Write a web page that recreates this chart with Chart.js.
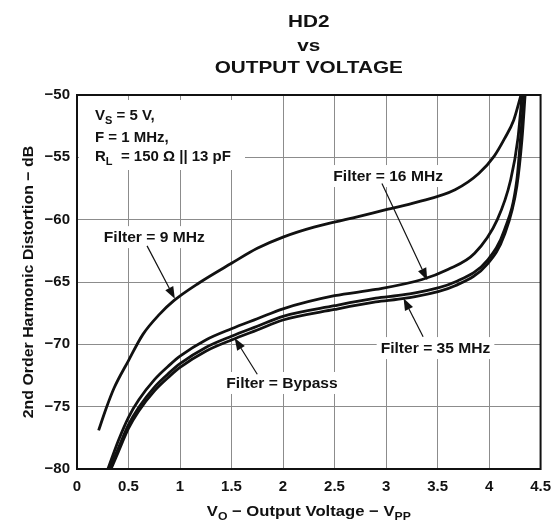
<!DOCTYPE html>
<html>
<head>
<meta charset="utf-8">
<script src="https://cdn.jsdelivr.net/npm/chart.js@4"></script>
<style>
  html, body { margin: 0; padding: 0; background: #fff; }
  #wrap { width: 560px; height: 521px; }
</style>
</head>
<body>
<div id="wrap"><canvas id="myChart" width="560" height="521"></canvas></div>
<script>
const xTickLabels = ['0', '0.5', '1', '1.5', '2', '2.5', '3', '3.5', '4', '4.5'];
const yTickLabels = ['−80', '−75', '−70', '−65', '−60', '−55', '−50'];

// Filter = 9 MHz
const vo9 = [0.21, 0.28, 0.36, 0.5, 0.64, 0.8, 0.94, 1.18, 1.5, 1.75, 2.0, 2.3, 2.71, 3.0, 3.3, 3.67, 3.9, 4.05, 4.15, 4.24, 4.31];
const hd9 = [-76.9, -75.2, -73.5, -71.3, -69.2, -67.6, -66.5, -65.1, -63.5, -62.3, -61.4, -60.6, -59.8, -59.2, -58.6, -57.6, -56.3, -54.9, -53.5, -52.0, -50.0];

// Filter = 16 MHz
const vo16 = [0.30, 0.4, 0.5, 0.6, 0.75, 0.9, 1.0, 1.25, 1.5, 1.75, 2.0, 2.5, 2.9, 3.35, 3.6, 3.86, 4.08, 4.21, 4.28, 4.32];
const hd16 = [-80.0, -77.75, -75.85, -74.45, -72.85, -71.65, -70.95, -69.65, -68.75, -67.95, -67.15, -66.1, -65.6, -64.8, -64.0, -62.7, -60.0, -56.8, -53.5, -50.0];

// Filter = 35 MHz
const vo35 = [0.315, 0.4, 0.5, 0.6, 0.75, 0.9, 1.0, 1.25, 1.5, 1.75, 2.0, 2.5, 2.9, 3.19, 3.67, 3.99, 4.15, 4.27, 4.31, 4.34];
const hd35 = [-80.0, -78.35, -76.45, -75.05, -73.45, -72.25, -71.55, -70.25, -69.35, -68.55, -67.75, -66.9, -66.3, -66.0, -65.0, -63.2, -60.8, -56.8, -53.0, -50.0];

// Filter = Bypass
const voBy = [0.33, 0.4, 0.5, 0.6, 0.75, 0.9, 1.0, 1.25, 1.5, 1.75, 2.0, 2.5, 2.9, 3.19, 3.67, 3.99, 4.15, 4.27, 4.32, 4.35];
const hdBy = [-80.0, -78.65, -76.75, -75.35, -73.75, -72.55, -71.85, -70.55, -69.65, -68.85, -68.05, -67.2, -66.6, -66.3, -65.3, -63.5, -61.2, -57.3, -53.5, -50.0];

const FONT = '"Liberation Sans", Arial, sans-serif';

function pts(xs, ys) {
  return xs.map((x, i) => ({ x: x, y: ys[i] }));
}

function line(label, xs, ys) {
  return {
    label: label,
    data: pts(xs, ys),
    showLine: true,
    borderColor: '#111',
    backgroundColor: '#111',
    borderWidth: 2.8,
    pointRadius: 0,
    cubicInterpolationMode: 'monotone'
  };
}

// labels placed in data coordinates
const notes = [
  { text: 'Filter = 9 MHz', x: 0.75, y: -61.4, from: [0.68, -62.1], to: [0.95, -66.35] },
  { text: 'Filter = 16 MHz', x: 3.02, y: -56.5, from: [2.96, -57.1], to: [3.40, -64.85] },
  { text: 'Filter = 35 MHz', x: 3.48, y: -70.3, from: [3.36, -69.4], to: [3.17, -66.3] },
  { text: 'Filter = Bypass', x: 1.99, y: -73.1, from: [1.75, -72.4], to: [1.53, -69.5] }
];

function rich(ctx, parts, x, y, size, align) {
  const sub = Math.round(size * 0.75);
  let w = 0;
  parts.forEach(p => {
    ctx.font = 'bold ' + (p.sub ? sub : size) + 'px ' + FONT;
    w += ctx.measureText(p.t).width;
  });
  let cx = align === 'center' ? x - w / 2 : x;
  parts.forEach(p => {
    ctx.font = 'bold ' + (p.sub ? sub : size) + 'px ' + FONT;
    ctx.textAlign = 'left';
    ctx.textBaseline = 'alphabetic';
    ctx.fillText(p.t, cx, p.sub ? y + 4 : y);
    cx += ctx.measureText(p.t).width;
  });
  return w;
}

function arrow(ctx, x1, y1, x2, y2) {
  const a = Math.atan2(y2 - y1, x2 - x1);
  const hl = 12, hw = 4.5;
  ctx.save();
  ctx.strokeStyle = '#111';
  ctx.fillStyle = '#111';
  ctx.lineWidth = 1.2;
  ctx.beginPath();
  ctx.moveTo(x1, y1);
  ctx.lineTo(x2 - hl * Math.cos(a), y2 - hl * Math.sin(a));
  ctx.stroke();
  ctx.beginPath();
  ctx.moveTo(x2, y2);
  ctx.lineTo(x2 - hl * Math.cos(a) + hw * Math.sin(a), y2 - hl * Math.sin(a) - hw * Math.cos(a));
  ctx.lineTo(x2 - hl * Math.cos(a) - hw * Math.sin(a), y2 - hl * Math.sin(a) + hw * Math.cos(a));
  ctx.closePath();
  ctx.fill();
  ctx.restore();
}

function stretched(ctx, text, x, y, sx) {
  ctx.save();
  ctx.translate(x, y);
  ctx.scale(sx, 1);
  ctx.fillText(text, 0, 0);
  ctx.restore();
}

const overlay = {
  id: 'overlay',
  beforeDatasetsDraw(chart) {
    const ctx = chart.ctx, xs = chart.scales.x, ys = chart.scales.y;
    const area = chart.chartArea;
    ctx.save();
    ctx.fillStyle = '#fff';
    ctx.font = 'bold 15px ' + FONT;
    notes.forEach(n => {
      const w = ctx.measureText(n.text).width * 1.04;
      const cx = xs.getPixelForValue(n.x), cy = ys.getPixelForValue(n.y);
      ctx.fillRect(cx - w / 2 - 4, cy - 11, w + 8, 22);
    });
    // box behind the conditions text
    ctx.fillRect(area.left + 2, 100, 166, 70);
    ctx.restore();
  },
  afterDatasetsDraw(chart) {
    const ctx = chart.ctx, xs = chart.scales.x, ys = chart.scales.y;
    const area = chart.chartArea;
    ctx.save();
    ctx.fillStyle = '#111';
    ctx.font = 'bold 15px ' + FONT;
    ctx.textAlign = 'center';
    ctx.textBaseline = 'middle';
    notes.forEach(n => {
      stretched(ctx, n.text, xs.getPixelForValue(n.x), ys.getPixelForValue(n.y) + 1, 1.04);
      arrow(ctx, xs.getPixelForValue(n.from[0]), ys.getPixelForValue(n.from[1]),
        xs.getPixelForValue(n.to[0]), ys.getPixelForValue(n.to[1]));
    });

    const lx = area.left + 18;
    rich(ctx, [{ t: 'V' }, { t: 'S', sub: true }, { t: ' = 5 V,' }], lx, 120, 15);
    rich(ctx, [{ t: 'F = 1 MHz,' }], lx, 142, 15);
    rich(ctx, [{ t: 'R' }, { t: 'L', sub: true }, { t: '  = 150 Ω || 13 pF' }], lx, 161, 15);

    // frame
    ctx.strokeStyle = '#111';
    ctx.lineWidth = 2;
    ctx.strokeRect(area.left, area.top, area.right - area.left, area.bottom - area.top);

    // titles
    ctx.fillStyle = '#111';
    const mid = (area.left + area.right) / 2;
    ctx.font = 'bold 17px ' + FONT;
    ctx.textAlign = 'center';
    ctx.textBaseline = 'alphabetic';
    stretched(ctx, 'HD2', mid, 27, 1.22);
    stretched(ctx, 'vs', mid, 51, 1.22);
    stretched(ctx, 'OUTPUT VOLTAGE', mid, 73, 1.22);

    ctx.save();
    ctx.translate(mid, 516);
    ctx.scale(1.11, 1);
    rich(ctx, [{ t: 'V' }, { t: 'O', sub: true }, { t: ' − Output Voltage − V' }, { t: 'PP', sub: true }], 0, 0, 15, 'center');
    ctx.restore();

    ctx.save();
    ctx.translate(33, (area.top + area.bottom) / 2);
    ctx.rotate(-Math.PI / 2);
    ctx.scale(1.06, 1);
    ctx.font = 'bold 15px ' + FONT;
    ctx.textAlign = 'center';
    ctx.textBaseline = 'alphabetic';
    ctx.fillText('2nd Order Harmonic Distortion − dB', 0, 0);
    ctx.restore();
    ctx.restore();
  }
};

const config = {
  type: 'scatter',
  data: {
    datasets: [
      line('Filter = 9 MHz', vo9, hd9),
      line('Filter = 16 MHz', vo16, hd16),
      line('Filter = 35 MHz', vo35, hd35),
      line('Filter = Bypass', voBy, hdBy)
    ]
  },
  options: {
    responsive: false,
    animation: false,
    layout: { padding: { top: 95, right: 13, left: 0, bottom: 0 } },
    plugins: {
      legend: { display: false },
      tooltip: { enabled: false },
      title: { display: false }
    },
    scales: {
      x: {
        type: 'linear',
        min: 0,
        max: 4.5,
        afterFit: s => { s.height = 52; },
        border: { display: false },
        grid: { color: '#8c8c8c', lineWidth: 1, drawTicks: false },
        ticks: {
          stepSize: 0.5,
          padding: 9,
          color: '#111',
          font: { family: FONT, size: 15, weight: 'bold' },
          callback: (v, i) => xTickLabels[i]
        }
      },
      y: {
        min: -80,
        max: -50,
        afterFit: s => { s.width = 77; },
        border: { display: false },
        grid: { color: '#8c8c8c', lineWidth: 1, drawTicks: false },
        ticks: {
          stepSize: 5,
          padding: 7,
          color: '#111',
          font: { family: FONT, size: 15, weight: 'bold' },
          callback: (v, i) => yTickLabels[i]
        }
      }
    }
  },
  plugins: [overlay]
};

const myChart = new Chart(document.getElementById('myChart'), config);
</script>
</body>
</html>
